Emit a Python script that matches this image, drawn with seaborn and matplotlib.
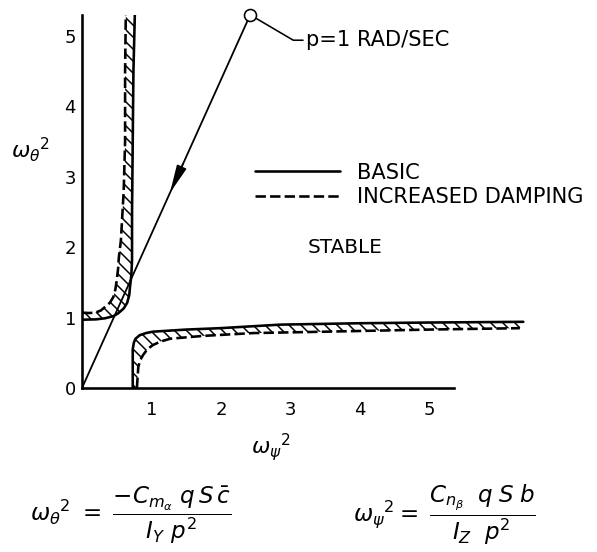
import numpy as np
import pandas as pd
import matplotlib
matplotlib.use("Agg")
import matplotlib.pyplot as plt
import seaborn as sns

# ---------------- data ----------------
series_labels = ["BASIC", "INCREASED DAMPING"]

# upper-left boundary (pitch branch)
left_basic_x = [0.00, 0.20, 0.33, 0.45, 0.52, 0.60, 0.65, 0.68, 0.69, 0.71, 0.72, 0.72, 0.73, 0.74, 0.76]
left_basic_y = [0.97, 0.975, 0.99, 1.02, 1.06, 1.13, 1.21, 1.32, 1.43, 1.60, 1.82, 2.50, 3.50, 4.50, 5.30]
left_damp_x = [0.00, 0.10, 0.19, 0.27, 0.33, 0.40, 0.45, 0.48, 0.50, 0.52, 0.53, 0.56, 0.60, 0.62, 0.62, 0.63]
left_damp_y = [1.07, 1.065, 1.07, 1.10, 1.15, 1.21, 1.29, 1.40, 1.53, 1.70, 1.85, 2.10, 2.80, 3.50, 4.50, 5.30]

# lower-right boundary (yaw branch)
low_basic_x = [0.73, 0.73, 0.73, 0.745, 0.77, 0.83, 0.92, 1.02, 1.50, 1.99, 2.85, 4.00, 5.00, 6.35]
low_basic_y = [0.00, 0.30, 0.55, 0.64, 0.70, 0.75, 0.78, 0.80, 0.83, 0.85, 0.90, 0.92, 0.93, 0.94]
low_damp_x = [0.79, 0.80, 0.81, 0.84, 0.88, 0.94, 1.02, 1.13, 1.27, 1.74, 2.46, 3.50, 5.00, 6.30]
low_damp_y = [0.00, 0.15, 0.30, 0.40, 0.47, 0.55, 0.61, 0.66, 0.70, 0.74, 0.78, 0.80, 0.83, 0.85]

# p = 1 rad/sec locus line
p_line_x = [0.0, 2.42]
p_line_y = [0.0, 5.30]
p_label = "p=1 RAD/SEC"
stable_label = "STABLE"

x_ticks = [1, 2, 3, 4, 5]
y_ticks = [0, 1, 2, 3, 4, 5]

# ---------------- style ----------------
sns.set_theme(style="white")
plt.rcParams["font.family"] = ["DejaVu Sans"]
plt.rcParams["mathtext.fontset"] = "dejavusans"
plt.rcParams["hatch.linewidth"] = 1.5
for k in ["text.color", "axes.labelcolor", "xtick.color", "ytick.color"]:
    plt.rcParams[k] = "black"

W, H = 597, 552
fig = plt.figure(figsize=(W / 72, H / 72), dpi=72)
ax = fig.add_axes([82 / W, 1 - 388 / H, 6.5 * 69.5 / W, 5.3 * 70.4 / H])

DASH = (0, (4, 1.6))
LW = 2.6

def df(x, y):
    return pd.DataFrame({"x": x, "y": y})

sns.lineplot(data=df(left_basic_x, left_basic_y), x="x", y="y", ax=ax,
             sort=False, estimator=None, color="black", lw=LW)
h_basic = ax.lines[-1]
sns.lineplot(data=df(left_damp_x, left_damp_y), x="x", y="y", ax=ax,
             sort=False, estimator=None, color="black", lw=LW, linestyle=DASH)
h_damp = ax.lines[-1]
sns.lineplot(data=df(low_basic_x, low_basic_y), x="x", y="y", ax=ax,
             sort=False, estimator=None, color="black", lw=LW)
sns.lineplot(data=df(low_damp_x, low_damp_y), x="x", y="y", ax=ax,
             sort=False, estimator=None, color="black", lw=LW, linestyle=DASH)

# hatching between basic and increased-damping boundaries
for bx, by, dx, dy in [(left_basic_x, left_basic_y, left_damp_x, left_damp_y),
                       (low_basic_x, low_basic_y, low_damp_x, low_damp_y)]:
    ax.fill(np.r_[bx, dx[::-1]], np.r_[by, dy[::-1]], facecolor="none",
            edgecolor="black", hatch="\\\\", lw=0)

# p line with arrow and circle
sns.lineplot(data=df(p_line_x, p_line_y), x="x", y="y", ax=ax,
             sort=False, estimator=None, color="black", lw=1.8)
tip = (p_line_x[1] * 0.523, p_line_y[1] * 0.523)
base = (p_line_x[1] * 0.60, p_line_y[1] * 0.60)
ax.annotate("", xy=tip, xytext=base,
            arrowprops=dict(arrowstyle="-|>,head_length=1.2,head_width=0.22",
                            mutation_scale=20, color="black", lw=1.5,
                            shrinkA=0, shrinkB=0))
ax.plot([p_line_x[1]], [p_line_y[1]], marker="o", ms=12, mfc="white",
        mec="black", mew=1.6, clip_on=False, zorder=6)
ax.plot([p_line_x[1], 3.04, 3.18], [p_line_y[1], 4.94, 4.94], color="black",
        lw=1.6, clip_on=False)
ax.text(3.22, 4.94, p_label, fontsize=21, va="center", ha="left")
ax.text(3.78, 2.0, stable_label, fontsize=20, va="center", ha="center")

# legend
ax.legend([h_basic, h_damp], series_labels, loc="upper left",
          bbox_to_anchor=(2.49, 3.20), bbox_transform=ax.transData,
          frameon=False, fontsize=21, handlelength=4.05, handletextpad=0.8,
          labelspacing=0.2, borderpad=0, borderaxespad=0)

# axes
ax.set_xlim(0, 6.5)
ax.set_ylim(0, 5.3)
ax.set_xticks(x_ticks)
ax.set_yticks(y_ticks)
ax.tick_params(direction="in", length=10, width=1.6, labelsize=18, colors="black")
ax.tick_params(axis="x", pad=13)
ax.tick_params(axis="y", pad=6)
for s in ["top", "right"]:
    ax.spines[s].set_visible(False)
for s in ["left", "bottom"]:
    ax.spines[s].set_linewidth(2.6)
    ax.spines[s].set_color("black")
ax.spines["bottom"].set_bounds(0, 5.35)
ax.spines["left"].set_bounds(0, 5.3)
ax.set_facecolor("white")

ax.set_xlabel(r"$\omega_\psi{}^2$", fontsize=22, va="center", ha="center")
ax.set_ylabel(r"$\omega_\theta{}^2$", fontsize=22, rotation=0, ha="center", va="center")
ax.xaxis.set_label_coords((271 - 82) / (6.5 * 69.5), (388 - 447) / (5.3 * 70.4))
ax.yaxis.set_label_coords((30 - 82) / (6.5 * 69.5), (388 - 150) / (5.3 * 70.4))

# definitions under the chart
fig.text(30 / W, 1 - 515 / H,
         r"$\omega_\theta{}^2\ =\;\dfrac{-C_{m_\alpha}\ q\,S\,\bar{c}}{I_Y\ p^2}$",
         fontsize=23, ha="left", va="center")
fig.text(353 / W, 1 - 515 / H,
         r"$\omega_\psi{}^2 =\;\dfrac{C_{n_\beta}\;\ q\;S\;b}{I_Z\;\ p^2}$",
         fontsize=23, ha="left", va="center")

fig.savefig("out.png", dpi=72, facecolor="white")
